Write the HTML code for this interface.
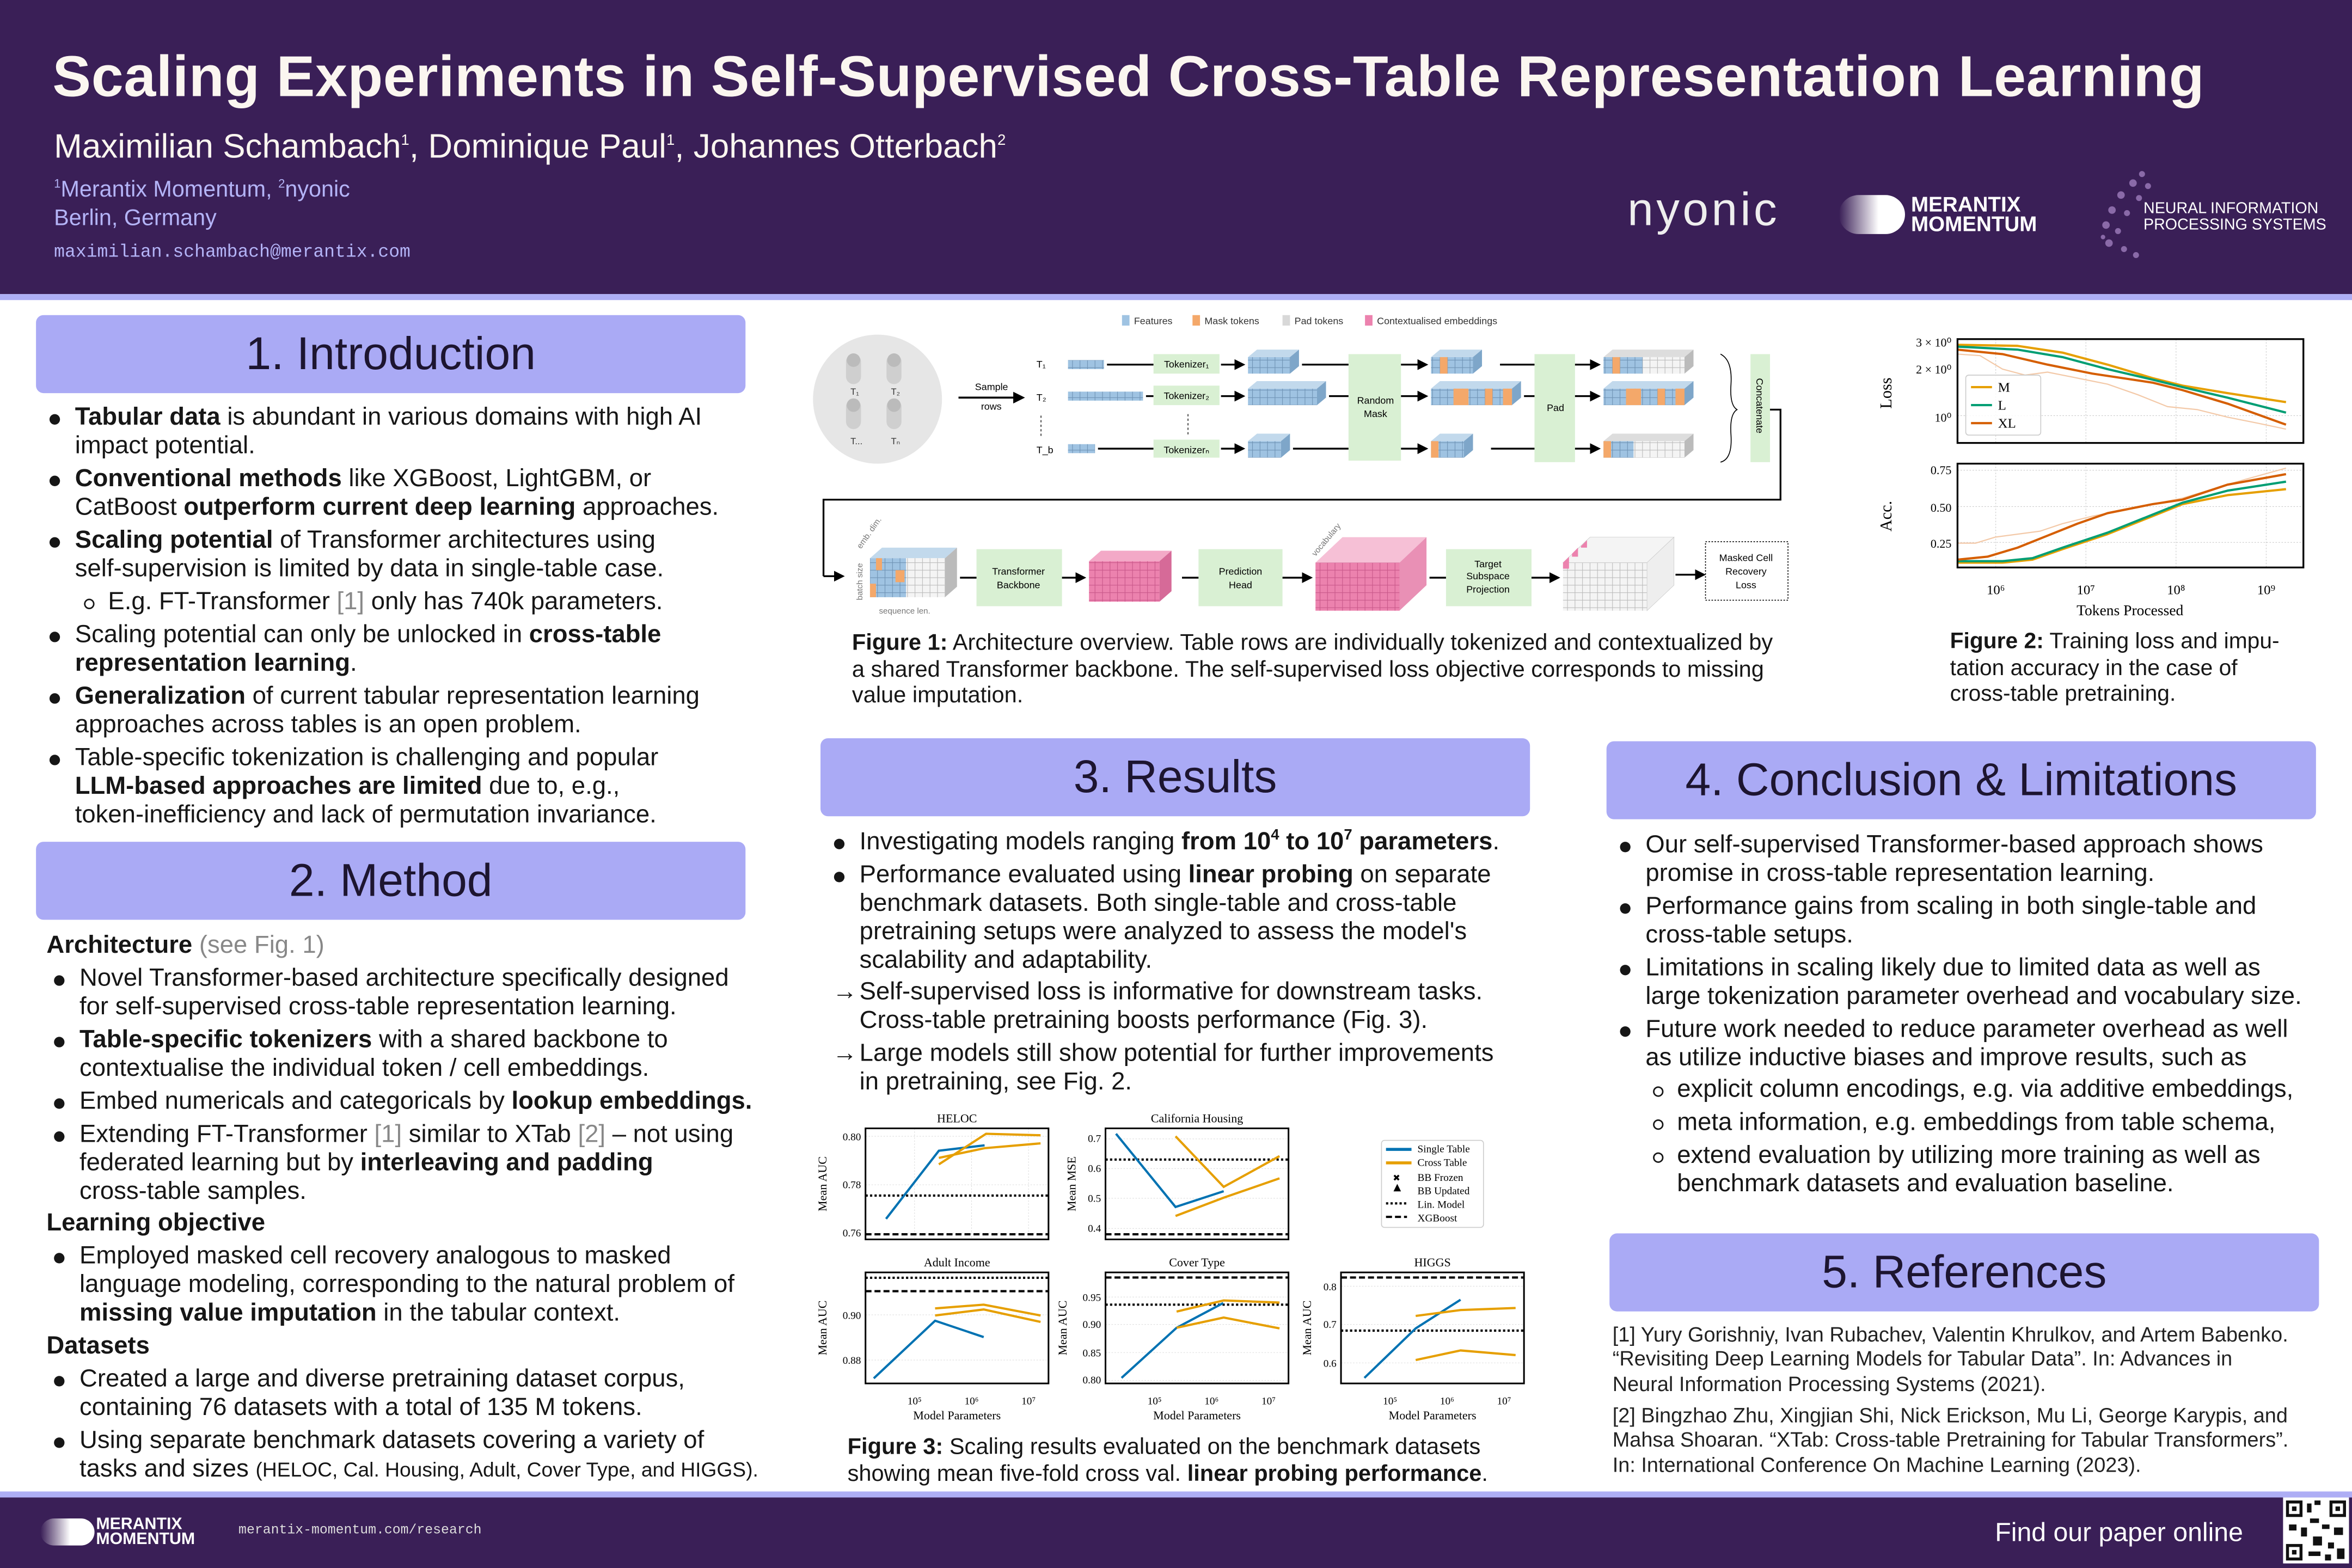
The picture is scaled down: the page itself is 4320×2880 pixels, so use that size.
<!DOCTYPE html>
<html><head><meta charset="utf-8">
<style>
html,body{margin:0;padding:0;width:4320px;height:2880px;overflow:hidden;background:#fff;}
#p{position:absolute;left:0;top:0;width:1568px;height:1045px;transform:scale(2.75510,2.75598);transform-origin:0 0;font-family:"Liberation Sans",sans-serif;color:#161616;}
.a{position:absolute;white-space:nowrap;}
.hd{position:absolute;background:#aaaaf5;border-radius:5px;color:#1d1530;font-size:30.5px;text-align:center;line-height:52px;height:52px;}
.t{position:absolute;font-size:16.5px;line-height:19px;white-space:nowrap;}
.t.bl::before{content:"";position:absolute;left:-17px;top:7px;width:7px;height:7px;border-radius:50%;background:#161616;}
.t.sb::before{content:"";position:absolute;left:-16px;top:7px;width:5px;height:5px;border-radius:50%;border:1px solid #161616;}
.t.ar::before{content:"→";position:absolute;left:-18px;top:0;}
.g{color:#888;}
sup{line-height:0;}
b{font-weight:bold;}
.cap{position:absolute;font-size:14.8px;line-height:17.5px;white-space:nowrap;}
.ref{position:absolute;font-size:13.75px;line-height:16.3px;white-space:nowrap;color:#222;}
</style></head><body><div id="p">
<!-- header -->
<div class="a" style="left:0;top:0;width:1568px;height:196px;background:#3a1f57;"></div>
<div class="a" style="left:0;top:196px;width:1568px;height:4px;background:#aeaef5;"></div>
<div class="a" style="left:35px;top:30px;font-size:38.5px;font-weight:bold;color:#fbf6f0;letter-spacing:0.2px;">Scaling Experiments in Self-Supervised Cross-Table Representation Learning</div>
<div class="a" style="left:36px;top:85px;font-size:22.5px;color:#fbf6f0;">Maximilian Schambach<sup style="font-size:10px">1</sup>, Dominique Paul<sup style="font-size:10px">1</sup>, Johannes Otterbach<sup style="font-size:10px">2</sup></div>
<div class="a" style="left:36px;top:117px;font-size:15px;line-height:19px;color:#b4b4f7;"><sup style="font-size:8px">1</sup>Merantix Momentum, <sup style="font-size:8px">2</sup>nyonic<br>Berlin, Germany</div>
<div class="a" style="left:36px;top:161px;font-size:12px;font-family:'Liberation Mono',monospace;color:#b4b4f7;">maximilian.schambach@merantix.com</div>
<div class="a" style="left:1085px;top:122px;font-size:31px;color:#eee;letter-spacing:2px;font-weight:300;">nyonic</div>
<div class="a" style="left:1226px;top:130px;width:44px;height:26px;border-radius:13px;background:linear-gradient(90deg,#3a1f57,#fff 60%);"></div>
<div class="a" style="left:1274px;top:130px;font-size:14px;line-height:13px;font-weight:bold;color:#fff;">MERANTIX<br>MOMENTUM</div>
<svg class="a" style="left:1398px;top:110px" width="40" height="66"><g fill="#8a6aa8"><circle cx="30" cy="6" r="2"/><circle cx="24" cy="12" r="2.5"/><circle cx="34" cy="14" r="2"/><circle cx="16" cy="20" r="2.5"/><circle cx="28" cy="22" r="2"/><circle cx="10" cy="30" r="2.5"/><circle cx="20" cy="32" r="2"/><circle cx="6" cy="40" r="2.5"/><circle cx="14" cy="44" r="2"/><circle cx="8" cy="52" r="2.5"/><circle cx="18" cy="56" r="2"/><circle cx="26" cy="60" r="2"/><circle cx="4" cy="48" r="1.5"/></g></svg>
<div class="a" style="left:1429px;top:134px;font-size:10.4px;line-height:11px;color:#fff;">NEURAL INFORMATION<br>PROCESSING SYSTEMS</div>

<!-- footer -->
<div class="a" style="left:0;top:994px;width:1568px;height:4px;background:#aeaef5;"></div>
<div class="a" style="left:0;top:998px;width:1568px;height:47px;background:#3a1f57;"></div>
<div class="a" style="left:27px;top:1012px;width:36px;height:18px;border-radius:9px;background:linear-gradient(90deg,#3a1f57,#fff 55%);"></div>
<div class="a" style="left:64px;top:1011px;font-size:11px;line-height:10px;font-weight:bold;color:#fff;">MERANTIX<br>MOMENTUM</div>
<div class="a" style="left:159px;top:1015px;font-size:9px;font-family:'Liberation Mono',monospace;color:#ddd;">merantix-momentum.com/research</div>
<div class="a" style="left:1330px;top:1011px;font-size:17.5px;color:#fff;">Find our paper online</div>
<svg class="a" style="left:1522px;top:998px" width="44" height="44"><rect width="44" height="44" fill="#fff"/><g fill="#111"><rect x="2" y="2" width="11" height="11"/><rect x="31" y="2" width="11" height="11"/><rect x="2" y="31" width="11" height="11"/><rect x="16" y="4" width="3" height="6"/><rect x="21" y="2" width="4" height="3"/><rect x="18" y="14" width="6" height="3"/><rect x="4" y="18" width="5" height="4"/><rect x="12" y="20" width="4" height="6"/><rect x="26" y="18" width="5" height="3"/><rect x="34" y="20" width="6" height="5"/><rect x="20" y="26" width="6" height="6"/><rect x="30" y="30" width="4" height="4"/><rect x="36" y="34" width="5" height="7"/><rect x="17" y="36" width="8" height="3"/><rect x="28" y="38" width="4" height="4"/></g><g fill="#fff"><rect x="4" y="4" width="7" height="7"/><rect x="33" y="4" width="7" height="7"/><rect x="4" y="33" width="7" height="7"/></g><g fill="#111"><rect x="6" y="6" width="3" height="3"/><rect x="35" y="6" width="3" height="3"/><rect x="6" y="35" width="3" height="3"/></g></svg>

<!-- section headers -->
<div class="hd" style="left:24px;top:210px;width:473px;">1. Introduction</div>
<div class="hd" style="left:24px;top:561px;width:473px;">2. Method</div>
<div class="hd" style="left:547px;top:492px;width:473px;">3. Results</div>
<div class="hd" style="left:1071px;top:494px;width:473px;">4. Conclusion &amp; Limitations</div>
<div class="hd" style="left:1073px;top:822px;width:473px;">5. References</div>

<!-- intro -->
<div class="t bl" style="left:50px;top:269px;"><b>Tabular data</b> is abundant in various domains with high AI<br>impact potential.</div>
<div class="t bl" style="left:50px;top:310px;"><b>Conventional methods</b> like XGBoost, LightGBM, or<br>CatBoost <b>outperform current deep learning</b> approaches.</div>
<div class="t bl" style="left:50px;top:351px;"><b>Scaling potential</b> of Transformer architectures using<br>self-supervision is limited by data in single-table case.</div>
<div class="t sb" style="left:72px;top:392px;">E.g. FT-Transformer <span class="g">[1]</span> only has 740k parameters.</div>
<div class="t bl" style="left:50px;top:414px;">Scaling potential can only be unlocked in <b>cross-table</b><br><b>representation learning</b>.</div>
<div class="t bl" style="left:50px;top:455px;"><b>Generalization</b> of current tabular representation learning<br>approaches across tables is an open problem.</div>
<div class="t bl" style="left:50px;top:496px;">Table-specific tokenization is challenging and popular<br><b>LLM-based approaches are limited</b> due to, e.g.,<br>token-inefficiency and lack of permutation invariance.</div>

<!-- method -->
<div class="t" style="left:31px;top:621px;"><b>Architecture</b> <span class="g">(see Fig. 1)</span></div>
<div class="t bl" style="left:53px;top:643px;">Novel Transformer-based architecture specifically designed<br>for self-supervised cross-table representation learning.</div>
<div class="t bl" style="left:53px;top:684px;"><b>Table-specific tokenizers</b> with a shared backbone to<br>contextualise the individual token / cell embeddings.</div>
<div class="t bl" style="left:53px;top:725px;">Embed numericals and categoricals by <b>lookup embeddings.</b></div>
<div class="t bl" style="left:53px;top:747px;">Extending FT-Transformer <span class="g">[1]</span> similar to XTab <span class="g">[2]</span> – not using<br>federated learning but by <b>interleaving and padding</b><br>cross-table samples.</div>
<div class="t" style="left:31px;top:806px;"><b>Learning objective</b></div>
<div class="t bl" style="left:53px;top:828px;">Employed masked cell recovery analogous to masked<br>language modeling, corresponding to the natural problem of<br><b>missing value imputation</b> in the tabular context.</div>
<div class="t" style="left:31px;top:888px;"><b>Datasets</b></div>
<div class="t bl" style="left:53px;top:910px;">Created a large and diverse pretraining dataset corpus,<br>containing 76 datasets with a total of 135 M tokens.</div>
<div class="t bl" style="left:53px;top:951px;">Using separate benchmark datasets covering a variety of<br>tasks and sizes <span style="font-size:13.5px">(HELOC, Cal. Housing, Adult, Cover Type, and HIGGS).</span></div>

<!-- results -->
<div class="t bl" style="left:573px;top:552px;">Investigating models ranging <b>from 10<sup style="font-size:10px">4</sup> to 10<sup style="font-size:10px">7</sup> parameters</b>.</div>
<div class="t bl" style="left:573px;top:574px;">Performance evaluated using <b>linear probing</b> on separate<br>benchmark datasets. Both single-table and cross-table<br>pretraining setups were analyzed to assess the model's<br>scalability and adaptability.</div>
<div class="t ar" style="left:573px;top:652px;">Self-supervised loss is informative for downstream tasks.<br>Cross-table pretraining boosts performance (Fig. 3).</div>
<div class="t ar" style="left:573px;top:693px;">Large models still show potential for further improvements<br>in pretraining, see Fig. 2.</div>

<!-- conclusion -->
<div class="t bl" style="left:1097px;top:554px;">Our self-supervised Transformer-based approach shows<br>promise in cross-table representation learning.</div>
<div class="t bl" style="left:1097px;top:595px;">Performance gains from scaling in both single-table and<br>cross-table setups.</div>
<div class="t bl" style="left:1097px;top:636px;">Limitations in scaling likely due to limited data as well as<br>large tokenization parameter overhead and vocabulary size.</div>
<div class="t bl" style="left:1097px;top:677px;">Future work needed to reduce parameter overhead as well<br>as utilize inductive biases and improve results, such as</div>
<div class="t sb" style="left:1118px;top:717px;">explicit column encodings, e.g. via additive embeddings,</div>
<div class="t sb" style="left:1118px;top:739px;">meta information, e.g. embeddings from table schema,</div>
<div class="t sb" style="left:1118px;top:761px;">extend evaluation by utilizing more training as well as<br>benchmark datasets and evaluation baseline.</div>

<!-- refs -->
<div class="ref" style="left:1075px;top:882px;">[1] Yury Gorishniy, Ivan Rubachev, Valentin Khrulkov, and Artem Babenko.<br>“Revisiting Deep Learning Models for Tabular Data”. In: Advances in<br>Neural Information Processing Systems (2021).</div>
<div class="ref" style="left:1075px;top:936px;">[2] Bingzhao Zhu, Xingjian Shi, Nick Erickson, Mu Li, George Karypis, and<br>Mahsa Shoaran. “XTab: Cross-table Pretraining for Tabular Transformers”.<br>In: International Conference On Machine Learning (2023).</div>

<!-- captions -->
<div class="cap" style="left:568px;top:420px;font-size:15.1px;"><b>Figure 1:</b> Architecture overview. Table rows are individually tokenized and contextualized by<br>a shared Transformer backbone. The self-supervised loss objective corresponds to missing<br>value imputation.</div>
<div class="cap" style="left:1300px;top:420px;"><b>Figure 2:</b> Training loss and impu-<br>tation accuracy in the case of<br>cross-table pretraining.</div>
<div class="cap" style="left:565px;top:956px;font-size:15.1px;"><b>Figure 3:</b> Scaling results evaluated on the benchmark datasets<br>showing mean five-fold cross val. <b>linear probing performance</b>.</div>

<!-- FIGURE 1 -->
<svg class="a" style="left:0;top:0" width="1568" height="1045" font-family="Liberation Sans, sans-serif">
<defs>
<pattern id="gb" width="5" height="5" patternUnits="userSpaceOnUse"><rect width="5" height="5" fill="#9fc3e2" stroke="#6f93b5" stroke-width="0.4"/></pattern>
<pattern id="gp" width="5" height="5" patternUnits="userSpaceOnUse"><rect width="5" height="5" fill="#ec82ae" stroke="#c9588a" stroke-width="0.4"/></pattern>
<pattern id="gg" width="5" height="5" patternUnits="userSpaceOnUse"><rect width="5" height="5" fill="#f4f4f4" stroke="#bbb" stroke-width="0.4"/></pattern>
<marker id="ah" markerWidth="6" markerHeight="6" refX="5" refY="3" orient="auto"><path d="M0,0L6,3L0,6z" fill="#000"/></marker>
</defs>
<g font-size="6.5" fill="#333">
<rect x="748" y="210" width="5" height="7" fill="#9fc3e2"/><text x="756" y="216">Features</text>
<rect x="795" y="210" width="5" height="7" fill="#f4a86a"/><text x="803" y="216">Mask tokens</text>
<rect x="855" y="210" width="5" height="7" fill="#d8d8d8"/><text x="863" y="216">Pad tokens</text>
<rect x="910" y="210" width="5" height="7" fill="#ec82ae"/><text x="918" y="216">Contextualised embeddings</text>
</g>
<ellipse cx="585" cy="266" rx="43" ry="43" fill="#e6e6e6"/>
<g fill="#cfcfcf"><rect x="564" y="236" width="10" height="20" rx="5"/><rect x="591" y="236" width="10" height="20" rx="5"/><rect x="564" y="266" width="10" height="20" rx="5"/><rect x="591" y="266" width="10" height="20" rx="5"/></g>
<g fill="#bbb"><circle cx="569" cy="240" r="4.5"/><circle cx="596" cy="240" r="4.5"/><circle cx="569" cy="270" r="4.5"/><circle cx="596" cy="270" r="4.5"/></g>
<g font-size="6" fill="#333"><text x="567" y="263">T₁</text><text x="594" y="263">T₂</text><text x="567" y="296">T...</text><text x="594" y="296">Tₙ</text></g>
<line x1="639" y1="265" x2="682" y2="265" stroke="#000" stroke-width="1.3" marker-end="url(#ah)"/>
<text x="650" y="260" font-size="6.5">Sample</text><text x="654" y="273" font-size="6.5">rows</text>
<g font-size="6.5"><text x="691" y="245">T₁</text><text x="691" y="267">T₂</text><text x="691" y="302">T_b</text></g>
<line x1="694" y1="277" x2="694" y2="292" stroke="#000" stroke-width="0.5" stroke-dasharray="1.5,1.5"/>
<line x1="792" y1="276" x2="792" y2="291" stroke="#000" stroke-width="0.5" stroke-dasharray="1.5,1.5"/>
<rect x="712" y="240" width="24" height="6" fill="url(#gb)"/>
<rect x="712" y="261" width="50" height="6" fill="url(#gb)"/>
<rect x="712" y="296" width="18" height="6" fill="url(#gb)"/>
<g stroke="#000" stroke-width="1.2"><line x1="738" y1="243" x2="769" y2="243"/><line x1="764" y1="264" x2="769" y2="264"/><line x1="732" y1="299" x2="769" y2="299"/></g>
<g fill="#d9f0d3"><rect x="769" y="236" width="44" height="13"/><rect x="769" y="257" width="44" height="13"/><rect x="769" y="293" width="44" height="12"/>
<rect x="899" y="236" width="35" height="71"/><rect x="1023" y="236" width="27" height="72"/><rect x="1167" y="236" width="13" height="72"/>
<rect x="651" y="366" width="57" height="38"/><rect x="799" y="366" width="56" height="38"/><rect x="964" y="366" width="57" height="38"/></g>
<g font-size="6.5" text-anchor="middle"><text x="791" y="245">Tokenizer₁</text><text x="791" y="266">Tokenizer₂</text><text x="791" y="302">Tokenizerₙ</text>
<text x="917" y="269">Random</text><text x="917" y="278">Mask</text><text x="1037" y="274">Pad</text>
<text x="679" y="383">Transformer</text><text x="679" y="392">Backbone</text>
<text x="827" y="383">Prediction</text><text x="827" y="392">Head</text>
<text x="992" y="378">Target</text><text x="992" y="386">Subspace</text><text x="992" y="395">Projection</text>
<text x="1164" y="374">Masked Cell</text><text x="1164" y="383">Recovery</text><text x="1164" y="392">Loss</text></g>
<text transform="translate(1171,252) rotate(90)" font-size="6.5">Concatenate</text>
<g stroke="#000" stroke-width="1.2" marker-end="url(#ah)"><line x1="814" y1="243" x2="829" y2="243"/><line x1="814" y1="264" x2="829" y2="264"/><line x1="814" y1="299" x2="829" y2="299"/>
<line x1="934" y1="243" x2="951" y2="243"/><line x1="934" y1="264" x2="951" y2="264"/><line x1="934" y1="299" x2="951" y2="299"/>
<line x1="1050" y1="243" x2="1066" y2="243"/><line x1="1050" y1="264" x2="1066" y2="264"/><line x1="1050" y1="299" x2="1066" y2="299"/></g>
<g stroke="#000" stroke-width="1.2"><line x1="868" y1="243" x2="899" y2="243"/><line x1="886" y1="264" x2="899" y2="264"/><line x1="862" y1="299" x2="899" y2="299"/>
<line x1="1000" y1="243" x2="1023" y2="243"/><line x1="1016" y1="264" x2="1023" y2="264"/><line x1="994" y1="299" x2="1023" y2="299"/></g>
<g>
<path d="M832,238 l6,-5 h28 l-6,5z" fill="#c2d9ec"/><rect x="832" y="238" width="28" height="11" fill="url(#gb)"/><path d="M860,238 l6,-5 v11 l-6,5z" fill="#7ea6c9"/>
<path d="M832,259 l6,-5 h46 l-6,5z" fill="#c2d9ec"/><rect x="832" y="259" width="46" height="11" fill="url(#gb)"/><path d="M878,259 l6,-5 v11 l-6,5z" fill="#7ea6c9"/>
<path d="M832,294 l6,-5 h22 l-6,5z" fill="#c2d9ec"/><rect x="832" y="294" width="22" height="11" fill="url(#gb)"/><path d="M854,294 l6,-5 v11 l-6,5z" fill="#7ea6c9"/>
<path d="M954,238 l6,-5 h28 l-6,5z" fill="#c2d9ec"/><rect x="954" y="238" width="28" height="11" fill="url(#gb)"/><rect x="960" y="238" width="5" height="11" fill="#f4a86a"/><path d="M982,238 l6,-5 v11 l-6,5z" fill="#7ea6c9"/>
<path d="M954,259 l6,-5 h54 l-6,5z" fill="#c2d9ec"/><rect x="954" y="259" width="54" height="11" fill="url(#gb)"/><rect x="969" y="259" width="10" height="11" fill="#f4a86a"/><rect x="990" y="259" width="5" height="11" fill="#f4a86a"/><rect x="1002" y="259" width="6" height="11" fill="#f4a86a"/><path d="M1008,259 l6,-5 v11 l-6,5z" fill="#7ea6c9"/>
<path d="M954,294 l6,-5 h22 l-6,5z" fill="#c2d9ec"/><rect x="954" y="294" width="22" height="11" fill="url(#gb)"/><rect x="954" y="294" width="5" height="11" fill="#f4a86a"/><path d="M976,294 l6,-5 v11 l-6,5z" fill="#7ea6c9"/>
<path d="M1069,238 l6,-5 h54 l-6,5z" fill="#ddd"/><rect x="1069" y="238" width="54" height="11" fill="url(#gg)"/><rect x="1069" y="238" width="26" height="11" fill="url(#gb)"/><path d="M1123,238 l6,-5 v11 l-6,5z" fill="#bbb"/>
<rect x="1075" y="238" width="5" height="11" fill="#f4a86a"/>
<path d="M1069,259 l6,-5 h54 l-6,5z" fill="#c2d9ec"/><rect x="1069" y="259" width="54" height="11" fill="url(#gb)"/><rect x="1084" y="259" width="10" height="11" fill="#f4a86a"/><rect x="1105" y="259" width="5" height="11" fill="#f4a86a"/><rect x="1117" y="259" width="6" height="11" fill="#f4a86a"/><path d="M1123,259 l6,-5 v11 l-6,5z" fill="#7ea6c9"/>
<path d="M1069,294 l6,-5 h54 l-6,5z" fill="#ddd"/><rect x="1069" y="294" width="54" height="11" fill="url(#gg)"/><rect x="1069" y="294" width="20" height="11" fill="url(#gb)"/><rect x="1069" y="294" width="5" height="11" fill="#f4a86a"/><path d="M1123,294 l6,-5 v11 l-6,5z" fill="#bbb"/>
</g>
<path d="M1147,236 q8,4 7,20 q-1,14 4,17 q-5,3 -4,17 q1,16 -7,18" fill="none" stroke="#000" stroke-width="0.6"/>
<polyline points="1180,273 1187,273 1187,333 549,333 549,384" fill="none" stroke="#000" stroke-width="1.2"/>
<line x1="549" y1="384" x2="562" y2="384" stroke="#000" stroke-width="1.2" marker-end="url(#ah)"/>
<path d="M580,372 l8,-7 h50 l-8,7z" fill="#c2d9ec"/><rect x="580" y="372" width="50" height="26" fill="url(#gg)"/><rect x="580" y="372" width="24" height="26" fill="url(#gb)"/><rect x="584" y="372" width="4" height="8" fill="#f4a86a"/><rect x="597" y="380" width="6" height="8" fill="#f4a86a"/><rect x="580" y="389" width="4" height="9" fill="#f4a86a"/><path d="M630,372 l8,-7 v26 l-8,7z" fill="#bbb"/>
<text x="586" y="409" font-size="5.5" fill="#777">sequence len.</text>
<text transform="translate(575,400) rotate(-90)" font-size="5.5" fill="#777">batch size</text>
<text transform="translate(574,366) rotate(-55)" font-size="5.5" fill="#777">emb. dim.</text>
<g stroke="#000" stroke-width="1.2"><line x1="640" y1="385" x2="651" y2="385"/><line x1="788" y1="385" x2="799" y2="385"/><line x1="953" y1="385" x2="964" y2="385"/></g>
<g stroke="#000" stroke-width="1.2" marker-end="url(#ah)"><line x1="708" y1="385" x2="723" y2="385"/><line x1="855" y1="385" x2="874" y2="385"/><line x1="1021" y1="385" x2="1039" y2="385"/><line x1="1117" y1="383" x2="1136" y2="383"/></g>
<path d="M726,374 l8,-7 h47 l-8,7z" fill="#f3a9c7"/><rect x="726" y="374" width="47" height="27" fill="url(#gp)"/><path d="M773,374 l8,-7 v27 l-8,7z" fill="#d66a98"/>
<path d="M877,375 l18,-17 h56 l-18,17z" fill="#f6c0d6"/><rect x="877" y="375" width="56" height="32" fill="url(#gp)"/><path d="M933,375 l18,-17 v32 l-18,17z" fill="#e990b5"/>
<text transform="translate(877,371) rotate(-50)" font-size="5.5" fill="#777">vocabulary</text>
<path d="M1042,375 l18,-17 h56 l-18,17z" fill="#f4f4f4" stroke="#ccc" stroke-width="0.3"/><rect x="1042" y="375" width="56" height="32" fill="url(#gg)"/><path d="M1098,375 l18,-17 v32 l-18,17z" fill="#eee" stroke="#ccc" stroke-width="0.3"/>
<path d="M1042,375 l4,-4 v8 h-4z M1048,369 l4,-4 v6 h-4z M1054,364 l4,-4 v5 h-4z" fill="#ec82ae"/>
<rect x="1137" y="361" width="55" height="39" fill="none" stroke="#000" stroke-width="0.6" stroke-dasharray="1,1"/>
</svg>

<!-- FIGURE 2 -->
<svg class="a" style="left:1305px;top:226px;overflow:visible" width="231" height="153" font-family="Liberation Serif, serif">
<g stroke="#ccc" stroke-width="0.4" stroke-dasharray="1,1">
<line x1="25.5" y1="0" x2="25.5" y2="69"/><line x1="85.6" y1="0" x2="85.6" y2="69"/><line x1="145.7" y1="0" x2="145.7" y2="69"/><line x1="205.8" y1="0" x2="205.8" y2="69"/><line x1="0" y1="51" x2="230" y2="51"/>
<line x1="25.5" y1="83" x2="25.5" y2="153"/><line x1="85.6" y1="83" x2="85.6" y2="153"/><line x1="145.7" y1="83" x2="145.7" y2="153"/><line x1="205.8" y1="83" x2="205.8" y2="153"/>
<line x1="0" y1="87.4" x2="230" y2="87.4"/><line x1="0" y1="111.6" x2="230" y2="111.6"/><line x1="0" y1="135.5" x2="230" y2="135.5"/></g>
<g fill="none" stroke-width="1.5" stroke-linejoin="round">
<polyline stroke="#f3c9a8" stroke-width="0.8" points="0,10 15,11 30,20 45,24 60,22 80,26 100,30 120,37 140,45 160,47 180,52 200,56 219,60"/>
<polyline stroke="#e69f00" points="0,3.8 40,4.5 70,9 100,17 130,26 150,31 180,36 219,42"/>
<polyline stroke="#009e73" points="0,5 40,7 70,12 100,20 130,27 150,32 180,39 219,49"/>
<polyline stroke="#d55e00" points="0,7 30,10 60,17 90,23 130,29 150,34 180,43 219,57"/>
<polyline stroke="#f3c9a8" stroke-width="0.8" points="0,136 12,136 25,132 40,130 55,128 70,123 90,118 110,114 130,110 150,106 170,100 190,94 219,86"/>
<polyline stroke="#e69f00" points="0,149 30,149 50,147 70,140 100,130 130,118 150,110 180,104 219,100"/>
<polyline stroke="#009e73" points="0,148 30,148 50,146 70,139 100,129 130,117 150,109 180,101 219,95"/>
<polyline stroke="#d55e00" points="0,147 20,145 40,139 60,131 80,123 100,116 130,110 150,107 180,97 219,90"/>
</g>
<rect x="0" y="0" width="230.6" height="69.2" fill="none" stroke="#000" stroke-width="1.2"/>
<rect x="0" y="83" width="230.6" height="69.2" fill="none" stroke="#000" stroke-width="1.2"/>
<rect x="5.5" y="24" width="50" height="40" fill="#fff" fill-opacity="0.85" stroke="#ccc" stroke-width="0.6" rx="2"/>
<g stroke-width="1.5"><line x1="9" y1="32" x2="23" y2="32" stroke="#e69f00"/><line x1="9" y1="44" x2="23" y2="44" stroke="#009e73"/><line x1="9" y1="56" x2="23" y2="56" stroke="#d55e00"/></g>
<g font-size="9"><text x="27" y="35">M</text><text x="27" y="47">L</text><text x="27" y="59">XL</text></g>
<g font-size="8" text-anchor="end"><text x="-4" y="5">3 × 10⁰</text><text x="-4" y="23">2 × 10⁰</text><text x="-4" y="55">10⁰</text>
<text x="-4" y="90">0.75</text><text x="-4" y="115">0.50</text><text x="-4" y="139">0.25</text></g>
<g font-size="9" text-anchor="middle"><text x="25.5" y="170">10⁶</text><text x="85.6" y="170">10⁷</text><text x="145.7" y="170">10⁸</text><text x="205.8" y="170">10⁹</text>
<text x="115" y="184" font-size="10">Tokens Processed</text></g>
<text transform="translate(-44,36) rotate(-90)" font-size="11" text-anchor="middle">Loss</text>
<text transform="translate(-44,118) rotate(-90)" font-size="11" text-anchor="middle">Acc.</text>
</svg>

<!-- FIGURE 3 -->
<svg class="a" style="left:0;top:0;overflow:visible" width="1568" height="1045" font-family="Liberation Serif, serif">
<defs><g id="frame"><rect x="0" y="0" width="122" height="74" fill="none" stroke="#000" stroke-width="1.1"/></g></defs>
<g transform="translate(577,752)">
<g stroke="#ddd" stroke-width="0.4" stroke-dasharray="1,1"><line x1="0" y1="5.3" x2="122" y2="5.3"/><line x1="0" y1="37.6" x2="122" y2="37.6"/><line x1="0" y1="69.9" x2="122" y2="69.9"/><line x1="32.7" y1="0" x2="32.7" y2="74"/><line x1="70.7" y1="0" x2="70.7" y2="74"/><line x1="108.7" y1="0" x2="108.7" y2="74"/></g>
<line x1="0" y1="44.8" x2="122" y2="44.8" stroke="#000" stroke-width="1.5" stroke-dasharray="1.5,1.5"/>
<line x1="0" y1="70.6" x2="122" y2="70.6" stroke="#000" stroke-width="1.5" stroke-dasharray="4,2"/>
<polyline points="13.7,60.3 48.9,14.9 79.4,11.3" fill="none" stroke="#0072b2" stroke-width="1.5"/>
<polyline points="48.9,24 80.4,3.6 116.7,4.6" fill="none" stroke="#e69f00" stroke-width="1.5"/>
<polyline points="48.9,19.7 79.4,13.2 116.7,10" fill="none" stroke="#e69f00" stroke-width="1.5"/>
<use href="#frame"/>
<g font-size="7" text-anchor="end"><text x="-3" y="8">0.80</text><text x="-3" y="40">0.78</text><text x="-3" y="72">0.76</text></g>
<text x="61" y="-4" font-size="8" text-anchor="middle">HELOC</text>
<text transform="translate(-26,37) rotate(-90)" font-size="8" text-anchor="middle">Mean AUC</text>
</g>
<g transform="translate(737,752)">
<g stroke="#ddd" stroke-width="0.4" stroke-dasharray="1,1"><line x1="0" y1="7" x2="122" y2="7"/><line x1="0" y1="26.8" x2="122" y2="26.8"/><line x1="0" y1="46.6" x2="122" y2="46.6"/><line x1="0" y1="66.7" x2="122" y2="66.7"/></g>
<line x1="0" y1="20.8" x2="122" y2="20.8" stroke="#000" stroke-width="1.5" stroke-dasharray="1.5,1.5"/>
<line x1="0" y1="70.6" x2="122" y2="70.6" stroke="#000" stroke-width="1.5" stroke-dasharray="4,2"/>
<polyline points="7,3.6 46.7,52.4 78.8,41.9" fill="none" stroke="#0072b2" stroke-width="1.5"/>
<polyline points="46.7,5.3 78.8,39 116,18.5" fill="none" stroke="#e69f00" stroke-width="1.5"/>
<polyline points="46.7,58.4 78.8,46.2 116,33.3" fill="none" stroke="#e69f00" stroke-width="1.5"/>
<use href="#frame"/>
<g font-size="7" text-anchor="end"><text x="-3" y="9">0.7</text><text x="-3" y="29">0.6</text><text x="-3" y="49">0.5</text><text x="-3" y="69">0.4</text></g>
<text x="61" y="-4" font-size="8" text-anchor="middle">California Housing</text>
<text transform="translate(-20,37) rotate(-90)" font-size="8" text-anchor="middle">Mean MSE</text>
</g>
<g transform="translate(921,760)">
<rect x="0" y="0" width="68" height="58" fill="#fff" stroke="#ccc" stroke-width="0.6" rx="2"/>
<line x1="3" y1="6" x2="20" y2="6" stroke="#0072b2" stroke-width="2"/><line x1="3" y1="15" x2="20" y2="15" stroke="#e69f00" stroke-width="2"/>
<text x="10" y="27" font-size="6" text-anchor="middle">✖</text><path d="M8,34 l2.5,-5 l2.5,5z"/>
<line x1="3" y1="42" x2="17" y2="42" stroke="#000" stroke-width="1.5" stroke-dasharray="1.5,1.5"/><line x1="3" y1="51" x2="17" y2="51" stroke="#000" stroke-width="1.5" stroke-dasharray="4,2"/>
<g font-size="7"><text x="24" y="8">Single Table</text><text x="24" y="17">Cross Table</text><text x="24" y="27">BB Frozen</text><text x="24" y="36">BB Updated</text><text x="24" y="45">Lin. Model</text><text x="24" y="54">XGBoost</text></g>
</g>
<g transform="translate(577,848)">
<g stroke="#ddd" stroke-width="0.4" stroke-dasharray="1,1"><line x1="0" y1="28.3" x2="122" y2="28.3"/><line x1="0" y1="58.4" x2="122" y2="58.4"/></g>
<line x1="0" y1="3.6" x2="122" y2="3.6" stroke="#000" stroke-width="1.5" stroke-dasharray="1.5,1.5"/>
<line x1="0" y1="12.5" x2="122" y2="12.5" stroke="#000" stroke-width="1.5" stroke-dasharray="4,2"/>
<polyline points="5.5,70.6 46.4,32.2 78.8,43.1" fill="none" stroke="#0072b2" stroke-width="1.5"/>
<polyline points="46.4,28.7 78.8,24.7 116.7,33" fill="none" stroke="#e69f00" stroke-width="1.5"/>
<polyline points="46.4,24 78.8,21.5 116.7,28.7" fill="none" stroke="#e69f00" stroke-width="1.5"/>
<use href="#frame"/>
<g font-size="7" text-anchor="end"><text x="-3" y="31">0.90</text><text x="-3" y="61">0.88</text></g>
<text x="61" y="-4" font-size="8" text-anchor="middle">Adult Income</text>
<text transform="translate(-26,37) rotate(-90)" font-size="8" text-anchor="middle">Mean AUC</text>
<g font-size="7" text-anchor="middle"><text x="32.7" y="88">10⁵</text><text x="70.7" y="88">10⁶</text><text x="108.7" y="88">10⁷</text><text x="61" y="98" font-size="8">Model Parameters</text></g>
</g>
<g transform="translate(737,848)">
<g stroke="#ddd" stroke-width="0.4" stroke-dasharray="1,1"><line x1="0" y1="16.4" x2="122" y2="16.4"/><line x1="0" y1="34.7" x2="122" y2="34.7"/><line x1="0" y1="53.4" x2="122" y2="53.4"/><line x1="0" y1="72" x2="122" y2="72"/></g>
<line x1="0" y1="3.4" x2="122" y2="3.4" stroke="#000" stroke-width="1.5" stroke-dasharray="4,2"/>
<line x1="0" y1="21.5" x2="122" y2="21.5" stroke="#000" stroke-width="1.5" stroke-dasharray="1.5,1.5"/>
<polyline points="10.7,70.3 47.4,36.9 78.5,20.4" fill="none" stroke="#0072b2" stroke-width="1.5"/>
<polyline points="47.4,36.9 78.8,30.1 116,37.3" fill="none" stroke="#e69f00" stroke-width="1.5"/>
<polyline points="47.4,26.1 78.8,18.7 116,20.1" fill="none" stroke="#e69f00" stroke-width="1.5"/>
<use href="#frame"/>
<g font-size="7" text-anchor="end"><text x="-3" y="19">0.95</text><text x="-3" y="37">0.90</text><text x="-3" y="56">0.85</text><text x="-3" y="74">0.80</text></g>
<text x="61" y="-4" font-size="8" text-anchor="middle">Cover Type</text>
<text transform="translate(-26,37) rotate(-90)" font-size="8" text-anchor="middle">Mean AUC</text>
<g font-size="7" text-anchor="middle"><text x="32.7" y="88">10⁵</text><text x="70.7" y="88">10⁶</text><text x="108.7" y="88">10⁷</text><text x="61" y="98" font-size="8">Model Parameters</text></g>
</g>
<g transform="translate(894,848)">
<g stroke="#ddd" stroke-width="0.4" stroke-dasharray="1,1"><line x1="0" y1="9.2" x2="122" y2="9.2"/><line x1="0" y1="34.7" x2="122" y2="34.7"/><line x1="0" y1="60.3" x2="122" y2="60.3"/></g>
<line x1="0" y1="3.4" x2="122" y2="3.4" stroke="#000" stroke-width="1.5" stroke-dasharray="4,2"/>
<line x1="0" y1="38.8" x2="122" y2="38.8" stroke="#000" stroke-width="1.5" stroke-dasharray="1.5,1.5"/>
<polyline points="15.6,70.3 49.8,37.3 79.7,18.2" fill="none" stroke="#0072b2" stroke-width="1.5"/>
<polyline points="49.8,29 79.7,25.1 116.4,23.7" fill="none" stroke="#e69f00" stroke-width="1.5"/>
<polyline points="49.8,58.4 79.7,52 116.4,55.1" fill="none" stroke="#e69f00" stroke-width="1.5"/>
<use href="#frame"/>
<g font-size="7" text-anchor="end"><text x="-3" y="12">0.8</text><text x="-3" y="37">0.7</text><text x="-3" y="63">0.6</text></g>
<text x="61" y="-4" font-size="8" text-anchor="middle">HIGGS</text>
<text transform="translate(-20,37) rotate(-90)" font-size="8" text-anchor="middle">Mean AUC</text>
<g font-size="7" text-anchor="middle"><text x="32.7" y="88">10⁵</text><text x="70.7" y="88">10⁶</text><text x="108.7" y="88">10⁷</text><text x="61" y="98" font-size="8">Model Parameters</text></g>
</g>
</svg>
</div></body></html>
